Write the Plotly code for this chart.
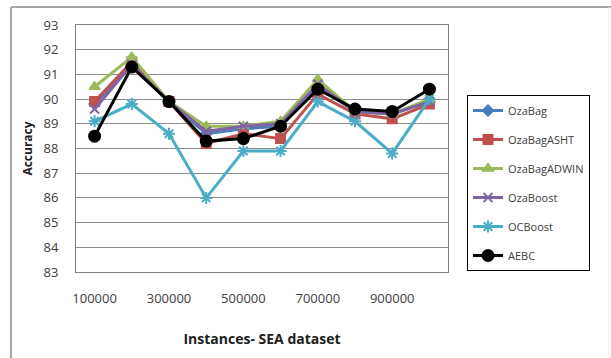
import plotly.graph_objects as go

# Instances processed (SEA dataset)
instances = [100000, 200000, 300000, 400000, 500000, 600000, 700000, 800000, 900000, 1000000]

# Accuracy (%) per ensemble method
oza_bag = [89.8, 91.5, 89.9, 88.6, 88.8, 88.9, 90.5, 89.5, 89.4, 89.9]
oza_bag_asht = [89.9, 91.5, 89.9, 88.2, 88.6, 88.4, 90.2, 89.4, 89.2, 89.8]
oza_bag_adwin = [90.5, 91.7, 89.9, 88.9, 88.9, 89.1, 90.8, 89.5, 89.4, 90.0]
oza_boost = [89.6, 91.4, 89.9, 88.7, 88.9, 89.0, 90.6, 89.5, 89.4, 89.9]
oc_boost = [89.1, 89.8, 88.6, 86.0, 87.9, 87.9, 89.9, 89.1, 87.8, 90.0]
aebc = [88.5, 91.3, 89.9, 88.3, 88.4, 88.9, 90.4, 89.6, 89.5, 90.4]

series = [
    ("OzaBag", oza_bag, "#4A7EBB", "diamond", 8),
    ("OzaBagASHT", oza_bag_asht, "#C0504D", "square", 9),
    ("OzaBagADWIN", oza_bag_adwin, "#9BBB59", "triangle-up", 9),
    ("OzaBoost", oza_boost, "#8064A2", "x-thin-open", 9),
    ("OCBoost", oc_boost, "#4BACC6", "asterisk-open", 10),
    ("AEBC", aebc, "#000000", "circle", 11),
]

FONT = "Open Sans, Liberation Sans, sans-serif"

fig = go.Figure()
for i, (name, vals, color, symbol, size) in enumerate(series):
    fig.add_trace(go.Scatter(
        x=instances, y=vals, name=name, mode="lines+markers",
        legendgroup=str(i),
        line=dict(color=color, width=3),
        marker=dict(symbol=symbol, size=size, color=color,
                    line=dict(color=color, width=2)),
    ))

# plot area geometry in pixels
L, T, R, B = 76, 25, 448, 272
W, H = 611, 358
pw, ph = R - L, B - T


def px_x(x):
    return (x - L) / pw


def px_y(y):
    return (B - y) / ph


def frame_line(x0, y0, x1, y1, color, width):
    return dict(type="line", xref="paper", yref="paper",
                x0=px_x(x0), x1=px_x(x1), y0=px_y(y0), y1=px_y(y1),
                line=dict(color=color, width=width), layer="below")


fig.update_layout(
    width=W, height=H,
    margin=dict(l=L, r=W - R, t=T, b=H - B, pad=0),
    paper_bgcolor="white", plot_bgcolor="white",
    font=dict(family=FONT, size=12, color="#404040"),
    showlegend=True,
    legend=dict(
        x=px_x(467), y=px_y(95), xanchor="left", yanchor="top",
        bordercolor="#000000", borderwidth=1, bgcolor="white",
        font=dict(family=FONT, size=11, color="#404040"),
        traceorder="grouped", tracegroupgap=10,
        itemwidth=30,
    ),
    # outer chart frame
    shapes=[
        frame_line(11, 7, 611, 7, "#A6A6A6", 2),
        frame_line(11, 7, 11, 358, "#A6A6A6", 2),
        frame_line(609, 7, 609, 358, "#EDEDED", 1),
    ],
)

fig.update_xaxes(
    range=[50000, 1050000], tick0=100000, dtick=200000, tickformat="d",
    showgrid=False, zeroline=False,
    showline=True, linecolor="#808080", linewidth=1, mirror=True,
    ticks="outside", ticklen=14, tickcolor="rgba(0,0,0,0)",
    tickfont=dict(family=FONT, size=13, color="#404040"),
    title=dict(text="<b>Instances- SEA dataset</b>", standoff=28,
               font=dict(family=FONT, size=14, color="#202020")),
)
fig.update_yaxes(
    range=[83, 93], dtick=1, tick0=83,
    showgrid=True, gridcolor="#8C8C8C", gridwidth=1, zeroline=False,
    showline=True, linecolor="#808080", linewidth=1, mirror=True,
    ticks="outside", ticklen=14, tickcolor="rgba(0,0,0,0)",
    tickfont=dict(family=FONT, size=13, color="#404040"),
    title=dict(text="<b>Accuracy</b>", standoff=8,
               font=dict(family=FONT, size=12, color="#202020")),
)

fig.write_html("out.html")
